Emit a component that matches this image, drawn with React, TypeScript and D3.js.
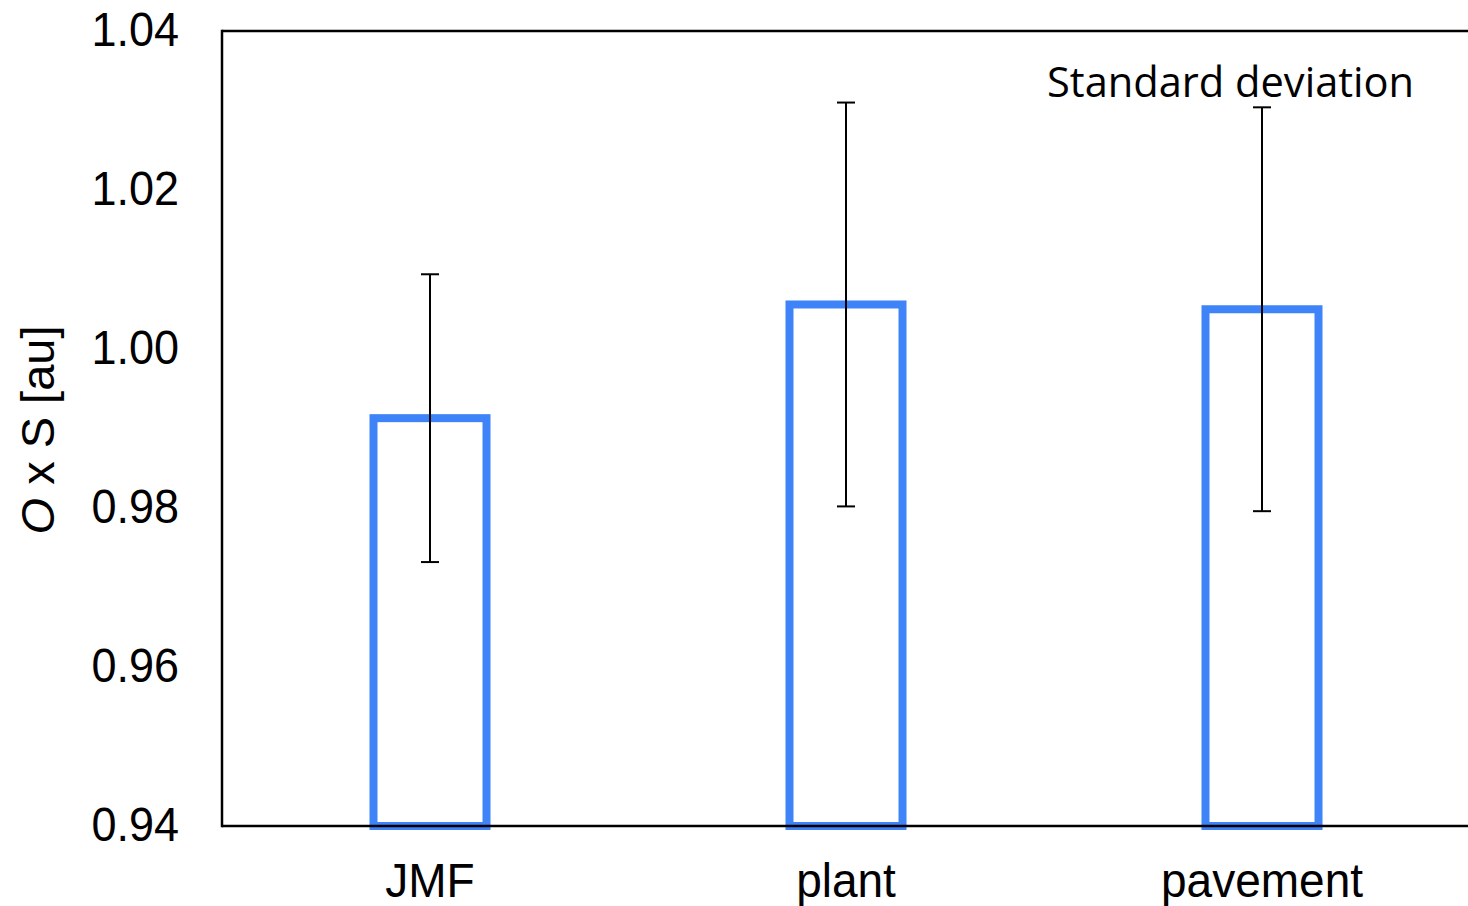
import React from "react";
import * as d3 from "d3";

const categories = ["JMF", "plant", "pavement"];
const means = [0.9913, 1.0056, 1.0050];
const stdDevs = [0.0181, 0.0254, 0.0254];
const yTicks = [0.94, 0.96, 0.98, 1.0, 1.02, 1.04];
const annotation = "Standard deviation";

const W = 1468;
const H = 906;
const M = { left: 222, top: 31, right: 1470, bottom: 826 };

export default function App() {
  const x = d3.scaleBand<string>().domain(categories).range([M.left, M.right]).paddingInner(0).paddingOuter(0);
  const y = d3.scaleLinear().domain([0.94, 1.04]).range([M.bottom, M.top]);
  const barW = 113;
  const capW = 18;
  const blue = "#3F83F8";
  const tickFont = "Liberation Sans, Arial, sans-serif";

  return (
    <svg width={W} height={H} style={{ position: "absolute", left: 0, top: 0, background: "#fff" }}>
      {/* axes frame */}
      <line x1={M.left} x2={W} y1={M.top} y2={M.top} stroke="#000" strokeWidth={2.5} />
      <line x1={M.left} x2={M.left} y1={M.top - 1.2} y2={M.bottom + 1.2} stroke="#000" strokeWidth={2.5} />
      {/* bars */}
      {categories.map((c, i) => {
        const cx = (x(c) as number) + x.bandwidth() / 2;
        return (
          <rect
            key={c}
            x={cx - barW / 2}
            y={y(means[i])}
            width={barW}
            height={y(0.94) - y(means[i])}
            fill="none"
            stroke={blue}
            strokeWidth={8}
          />
        );
      })}
      <line x1={M.left} x2={W} y1={M.bottom} y2={M.bottom} stroke="#000" strokeWidth={2.5} />
      {/* error bars */}
      {categories.map((c, i) => {
        const cx = (x(c) as number) + x.bandwidth() / 2;
        const top = y(means[i] + stdDevs[i]);
        const bot = y(means[i] - stdDevs[i]);
        return (
          <g key={c} stroke="#000" strokeWidth={2}>
            <line x1={cx} x2={cx} y1={top} y2={bot} />
            <line x1={cx - capW / 2} x2={cx + capW / 2} y1={top} y2={top} />
            <line x1={cx - capW / 2} x2={cx + capW / 2} y1={bot} y2={bot} />
          </g>
        );
      })}
      {/* y tick labels */}
      {yTicks.map((t) => (
        <text
          key={t}
          transform={`translate(179,${y(t) + 15}) scale(1,1.08)`}
          textAnchor="end"
          fontFamily={tickFont}
          fontSize={45}
          fill="#000"
        >
          {d3.format(".2f")(t)}
        </text>
      ))}
      {/* x labels */}
      {categories.map((c) => (
        <text
          key={c}
          transform={`translate(${(x(c) as number) + x.bandwidth() / 2},897) scale(1,1.06)`}
          textAnchor="middle"
          fontFamily={tickFont}
          fontSize={46}
          fill="#000"
        >
          {c}
        </text>
      ))}
      {/* y axis title */}
      <text
        transform="translate(54,430) rotate(-90)"
        textAnchor="middle"
        fontFamily={tickFont}
        fontSize={47}
        fill="#000"
      >
        <tspan fontStyle="italic">O</tspan>
        <tspan> x S [au]</tspan>
      </text>
      {/* annotation */}
      <text x={1047} y={97} fontFamily="Open Sans, sans-serif" fontSize={41.6} fill="#000">
        {annotation}
      </text>
    </svg>
  );
}
